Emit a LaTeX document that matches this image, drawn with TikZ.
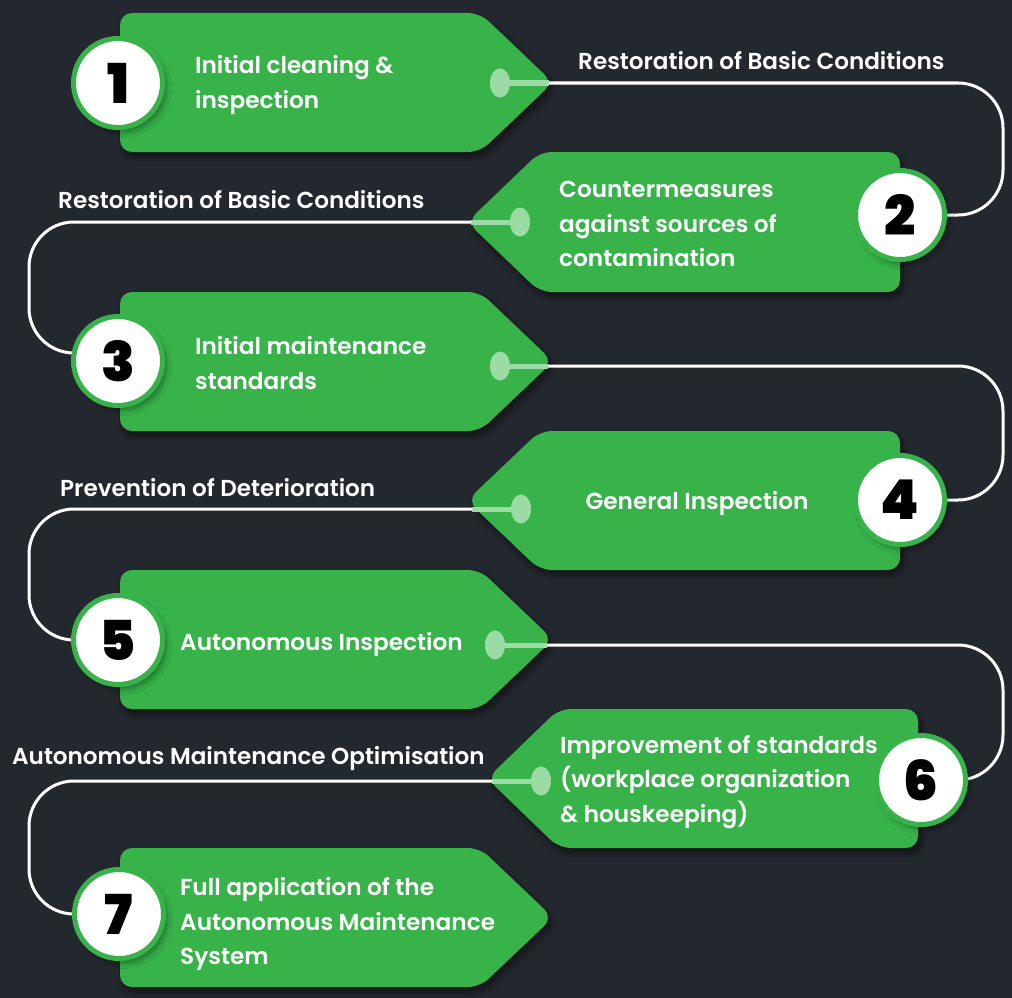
\documentclass[tikz,border=0pt]{standalone}
\usepackage{fontspec}
\setmainfont{Poppins}
\newfontfamily\txtfont{Poppins SemiBold}
\newfontfamily\numfont{Poppins Black}
\usetikzlibrary{shadows.blur,shapes.geometric}
\definecolor{bg}{HTML}{23272E}
\definecolor{gr}{HTML}{37B34A}
\definecolor{lg}{HTML}{9DDBA6}
\begin{document}
\begin{tikzpicture}[x=1pt,y=-1pt,
  stepshape/.style={fill=gr, rounded corners=12pt,
    blur shadow={shadow xshift=3pt,shadow yshift=-5pt,shadow opacity=50,shadow blur steps=10, shadow blur radius=6pt}},
  numcircle/.style={circle, fill=white, draw=gr, line width=5pt, minimum size=89pt, inner sep=0pt,
    font=\numfont\fontsize{55}{55}\selectfont, text=black,
    blur shadow={shadow xshift=4pt,shadow yshift=-5pt,shadow opacity=35,shadow blur steps=8, shadow blur radius=5pt}},
  steptext/.style={anchor=west, align=left, text=white, font=\txtfont\fontsize{23.2}{34.6}\selectfont, inner sep=0pt},
  conlabel/.style={anchor=west, text=white, font=\txtfont\fontsize{23.1}{26}\selectfont, inner sep=0pt},
  conn/.style={draw=white, line width=3pt, rounded corners=45pt},
  stub/.style={draw=lg, line width=5pt},
  dotnode/.style={ellipse, fill=lg, minimum width=20pt, minimum height=29pt, inner sep=0pt}
]
\fill[bg] (0,0) rectangle (1012,998);
\useasboundingbox (0,0) rectangle (1012,998);

\coordinate (xr) at (1003,0);
\coordinate (xl) at (29,0);

% step shapes
\path[stepshape] (120,13) -- (480,13) -- (553,82.5) -- (480,152) -- (120,152) -- cycle;
\path[stepshape] (900,152) -- (540,152) -- (467,222) -- (540,292) -- (900,292) -- cycle;
\path[stepshape] (120,292) -- (480,292) -- (553,361.5) -- (480,431) -- (120,431) -- cycle;
\path[stepshape] (900,431) -- (540,431) -- (467,500.5) -- (540,570) -- (900,570) -- cycle;
\path[stepshape] (120,570) -- (480,570) -- (553,639.5) -- (480,709) -- (120,709) -- cycle;
\path[stepshape] (918,709) -- (559,709) -- (487,778.5) -- (559,848) -- (918,848) -- cycle;
\path[stepshape] (120,848) -- (480,848) -- (553,917.5) -- (480,987) -- (120,987) -- cycle;

% tips and dots
\coordinate (t1) at (549,83);
\coordinate (t2) at (471,222);
\coordinate (t3) at (548,366);
\coordinate (t4) at (472,509);
\coordinate (t5) at (547,645);
\coordinate (t6) at (492,781);
\node[dotnode] (d1) at (500,83) {};
\node[dotnode] (d2) at (520,222) {};
\node[dotnode] (d3) at (500,366) {};
\node[dotnode] (d4) at (521,509) {};
\node[dotnode] (d5) at (495,645) {};
\node[dotnode] (d6) at (541,781) {};
\foreach \i in {1,...,6}{\draw[stub] (d\i.center) -- (t\i);}

% circle positions
\coordinate (p1) at (118,83);
\coordinate (p2) at (900,215);
\coordinate (p3) at (118,361);
\coordinate (p4) at (900,500);
\coordinate (p5) at (118,640);
\coordinate (p6) at (921,780);
\coordinate (p7) at (119,914);

% connectors
\draw[conn] (t1) -- (t1 -| xr) -- (p2 -| xr) -- (p2);
\draw[conn] (t2) -- (t2 -| xl) -- ([yshift=8pt]p3 -| xl) -- ([yshift=8pt]p3);
\draw[conn] (t3) -- (t3 -| xr) -- (p4 -| xr) -- (p4);
\draw[conn] (t4) -- (t4 -| xl) -- (p5 -| xl) -- (p5);
\draw[conn] (t5) -- (t5 -| xr) -- (p6 -| xr) -- (p6);
\draw[conn] (t6) -- (t6 -| xl) -- (p7 -| xl) -- (p7);

% circles
\node[numcircle] (c1) at (p1) {1};
\node[numcircle] (c2) at (p2) {2};
\node[numcircle] (c3) at (p3) {3};
\node[numcircle] (c4) at (p4) {4};
\node[numcircle] (c5) at (p5) {5};
\node[numcircle] (c6) at (p6) {6};
\node[numcircle] (c7) at (p7) {7};

% texts
\node[steptext] (s1) at (195,85) {Initial cleaning \&\\inspection};
\node[steptext] (s2) at (559,224) {Countermeasures\\against sources of\\contamination};
\node[steptext] (s3) at (195,363) {Initial maintenance\\standards};
\node[steptext, anchor=center] (s4) at (697,503) {General Inspection};
\node[steptext] (s5) at (180,644) {Autonomous Inspection};
\node[steptext] (s6) at (560,782) {Improvement of standards\\(workplace organization\\\& houskeeping)};
\node[steptext] (s7) at (180,924) {Full application of the\\Autonomous Maintenance\\System};

% connector labels
\node[conlabel] (l1) at (578,61) {Restoration of Basic Conditions};
\node[conlabel] (l2) at (58,200) {Restoration of Basic Conditions};
\node[conlabel] (l3) at (60,488) {Prevention of Deterioration};
\node[conlabel] (l4) at (12,758) {Autonomous Maintenance Optimisation};
\end{tikzpicture}
\end{document}
